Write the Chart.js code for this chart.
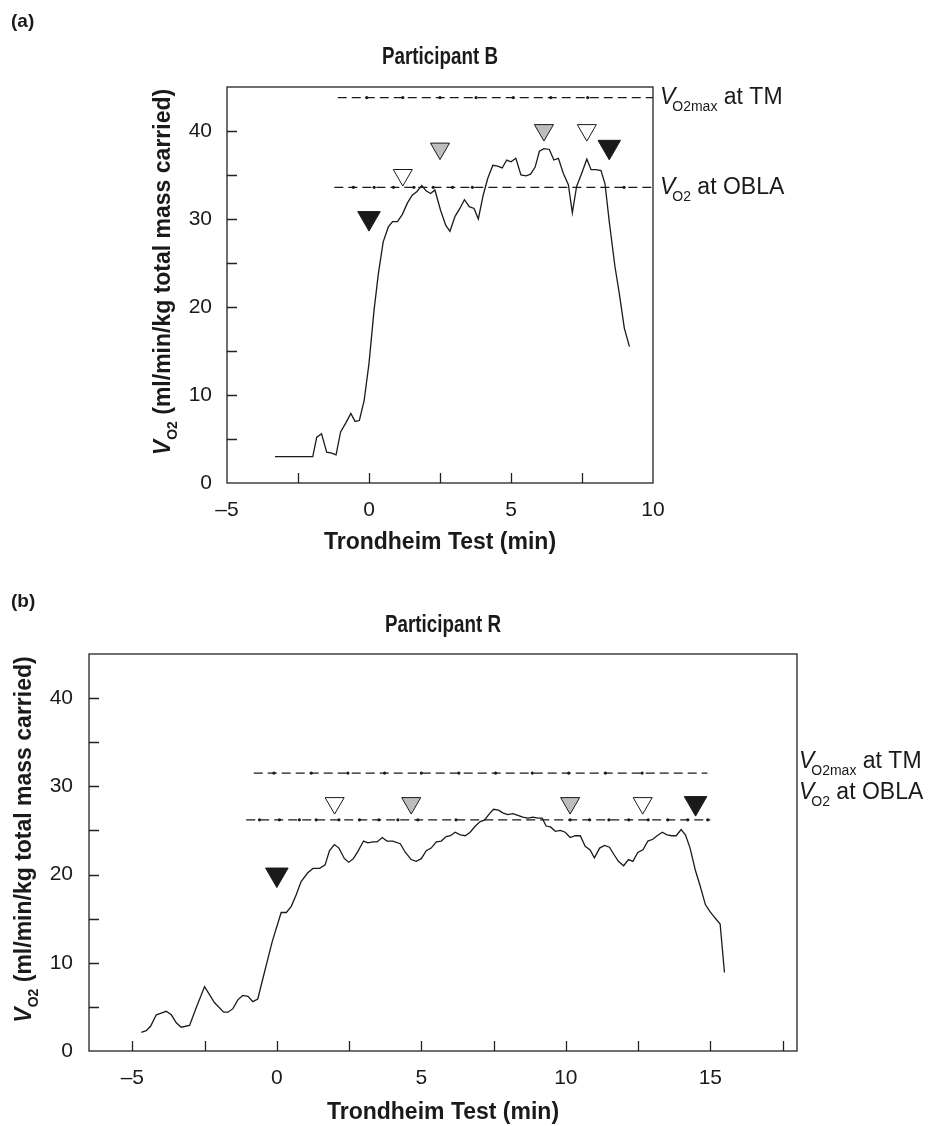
<!DOCTYPE html>
<html>
<head>
<meta charset="utf-8">
<script src="https://cdn.jsdelivr.net/npm/chart.js@4"></script>
<style>
  body { margin: 0; background: #fff; width: 940px; height: 1126px; overflow: hidden; position: relative; }
  .panel { position: absolute; left: 0; width: 940px; }
  #wrapA { top: 0; height: 560px; }
  #wrapB { top: 560px; height: 566px; }
</style>
</head>
<body>
<div class="panel" id="wrapA"><canvas id="chartA"></canvas></div>
<div class="panel" id="wrapB"><canvas id="chartB"></canvas></div>
<script>
// Participant B (panel a)
const aTime = [-3.31, -1.98, -1.84, -1.67, -1.49, -1.31, -1.16, -1.0, -0.82, -0.64,
  -0.49, -0.34, -0.17, 0, 0.18, 0.33, 0.5, 0.68, 0.83, 1.0,
  1.17, 1.35, 1.52, 1.68, 1.86, 2.01, 2.17, 2.32, 2.52, 2.7,
  2.85, 3.03, 3.2, 3.36, 3.53, 3.7, 3.85, 4.02, 4.18, 4.36,
  4.53, 4.69, 4.85, 5.0, 5.17, 5.35, 5.53, 5.69, 5.85, 6.0,
  6.16, 6.35, 6.51, 6.67, 6.84, 7.02, 7.16, 7.31, 7.49, 7.67,
  7.82, 7.99, 8.17, 8.31, 8.46, 8.66, 8.81, 8.99, 9.17];
const aVo2 = [3.0, 3.0, 5.2, 5.6, 3.5, 3.4, 3.2, 5.8, 6.8, 7.9,
  7.0, 7.1, 9.4, 13.6, 19.7, 23.8, 27.4, 29.1, 29.7, 29.7,
  30.5, 31.8, 32.7, 33.1, 33.8, 33.2, 32.9, 33.3, 31.0, 29.3,
  28.6, 30.3, 31.2, 32.2, 31.4, 31.2, 30.0, 32.7, 34.6, 36.1,
  36.0, 35.8, 36.7, 36.5, 36.9, 35.0, 34.9, 35.1, 35.9, 37.7,
  38.0, 37.9, 36.7, 36.9, 35.2, 33.9, 30.7, 33.7, 35.2, 36.8,
  35.6, 35.6, 35.5, 34.0, 29.7, 24.6, 21.6, 17.6, 15.5];
const aVo2max = 43.8;
const aObla = 33.6;
const aMaxSpan = [-1.1, 10];
const aOblaSpan = [-1.22, 10];
const aMaxDots = [-0.08, 1.19, 2.5, 3.77, 5.08, 6.4, 7.7];
const aOblaDots = [-0.55, 0.18, 0.86, 1.58, 2.26, 2.94, 3.64, 8.98];
const aBlackX = [0, 8.46], aBlackY = [30.1, 38.2];
const aGreyX = [2.5, 6.16], aGreyY = [38.0, 40.1];
const aWhiteX = [1.19, 7.67], aWhiteY = [35.0, 40.1];
const aXTicks = [-5, -2.5, 0, 2.5, 5, 7.5, 10];

// Participant R (panel b)
const bTime = [-4.69, -4.52, -4.37, -4.17, -4.0, -3.83, -3.65, -3.48, -3.31, -3.02,
  -2.79, -2.5, -2.16, -1.84, -1.69, -1.52, -1.35, -1.18, -1.0, -0.83,
  -0.66, -0.43, -0.16, 0.15, 0.33, 0.5, 0.67, 0.84, 1.07, 1.25,
  1.48, 1.67, 1.82, 1.99, 2.15, 2.34, 2.49, 2.65, 2.8, 3.0,
  3.15, 3.32, 3.47, 3.65, 3.81, 4.01, 4.27, 4.45, 4.65, 4.82,
  5.0, 5.17, 5.34, 5.52, 5.69, 5.86, 6.01, 6.17, 6.35, 6.52,
  6.69, 6.87, 7.04, 7.19, 7.36, 7.5, 7.67, 7.82, 7.99, 8.17,
  8.34, 8.51, 8.69, 8.86, 9.03, 9.18, 9.32, 9.47, 9.64, 9.81,
  9.98, 10.15, 10.33, 10.5, 10.67, 10.84, 10.99, 11.17, 11.34, 11.51,
  11.66, 11.82, 12.0, 12.17, 12.32, 12.49, 12.67, 12.84, 13.01, 13.16,
  13.34, 13.5, 13.67, 13.82, 13.99, 14.14, 14.3, 14.49, 14.65, 14.83,
  14.99, 15.16, 15.34, 15.49];
const bVo2 = [2.1, 2.3, 2.8, 4.1, 4.3, 4.5, 4.1, 3.2, 2.7, 2.9,
  4.9, 7.3, 5.5, 4.4, 4.4, 4.8, 5.8, 6.3, 6.2, 5.6,
  5.9, 8.9, 12.4, 15.7, 15.7, 16.4, 17.7, 19.2, 20.2, 20.7,
  20.7, 21.1, 22.7, 23.4, 23.0, 21.8, 21.4, 21.8, 22.6, 23.8,
  23.6, 23.7, 23.7, 24.2, 23.8, 23.8, 23.5, 22.5, 21.7, 21.5,
  21.8, 22.7, 23.0, 23.7, 23.8, 24.3, 24.4, 24.8, 24.5, 24.4,
  24.8, 25.5, 26.0, 26.2, 26.9, 27.4, 27.3, 27.0, 26.8, 26.9,
  26.7, 26.5, 26.4, 26.5, 26.4, 26.4, 25.5, 25.4, 24.9, 25.0,
  24.8, 24.2, 24.4, 24.4, 23.2, 22.8, 21.9, 23.0, 23.3, 23.1,
  22.3, 21.5, 21.0, 21.7, 21.5, 22.5, 22.8, 23.8, 24.0, 24.4,
  24.8, 24.5, 24.4, 24.4, 25.1, 24.5, 23.0, 20.4, 18.7, 16.6,
  15.8, 15.1, 14.4, 8.9];
const bVo2max = 31.5;
const bObla = 26.2;
const bMaxSpan = [-0.8, 14.9];
const bOblaSpan = [-1.06, 15.0];
const bMaxDots = [-0.1, 1.19, 2.46, 3.73, 5.0, 6.3, 7.57, 8.84, 10.1, 11.37, 12.64];
const bOblaDots = [-0.6, 0.09, 0.78, 1.36, 2.15, 2.86, 3.53, 4.19, 4.88, 6.2,
  10.15, 10.82, 11.49, 12.18, 12.85, 13.53, 14.22, 14.91];
const bBlackX = [0, 14.49], bBlackY = [20.0, 28.1];
const bGreyX = [4.65, 10.15], bGreyY = [28.1, 28.1];
const bWhiteX = [2.0, 12.66], bWhiteY = [28.1, 28.1];
const bXTicks = [-5, -2.5, 0, 2.5, 5, 7.5, 10, 12.5, 15, 17.5];

const yTicks = [0, 5, 10, 15, 20, 25, 30, 35, 40, 45];

const FONT = '"Liberation Sans", Arial, Helvetica, sans-serif';
const NARROW = '"Liberation Sans Narrow", "Arial Narrow", ' + FONT;
const INK = '#1a1a1a';

const toPoints = (xs, ys) => xs.map((x, i) => ({ x: x, y: ys[i] }));

// dashed reference line with small dots along it
const refLine = (span, level, dots) => {
  const data = [{ x: span[0], y: level }]
    .concat(dots.map((d) => ({ x: d, y: level })))
    .concat([{ x: span[1], y: level }]);
  return {
    type: 'line',
    data: data,
    borderColor: INK,
    borderWidth: 1.2,
    borderDash: [9, 5],
    pointRadius: data.map((p, i) => (i === 0 || i === data.length - 1 ? 0 : 1.6)),
    pointBackgroundColor: INK,
    pointBorderWidth: 0,
    showLine: true,
  };
};

const marks = (xs, ys, fill, r) => ({
  type: 'scatter',
  data: toPoints(xs, ys),
  pointStyle: 'triangle',
  rotation: 180,
  pointRadius: r,
  backgroundColor: fill,
  borderColor: INK,
  borderWidth: 1,
});

// frame and inward tick marks
const frameTicks = {
  id: 'frameTicks',
  afterDatasetsDraw(chart) {
    const { ctx, chartArea, scales } = chart;
    const { left, right, top, bottom } = chartArea;
    const x = scales.x, y = scales.y;
    ctx.save();
    ctx.strokeStyle = '#222';
    ctx.lineWidth = 1.3;
    ctx.beginPath();
    x.ticks.forEach((t) => {
      if (t.value <= x.min || t.value >= x.max) return;
      const px = Math.round(x.getPixelForValue(t.value)) + 0.5;
      ctx.moveTo(px, bottom);
      ctx.lineTo(px, bottom - 10);
    });
    y.ticks.forEach((t) => {
      if (t.value <= y.min || t.value >= y.max) return;
      const py = Math.round(y.getPixelForValue(t.value)) + 0.5;
      ctx.moveTo(left, py);
      ctx.lineTo(left + 10, py);
    });
    ctx.stroke();
    ctx.strokeRect(left, top, right - left, bottom - top);
    ctx.restore();
  },
};

// V with a subscript, then the rest of the label
const drawV = (ctx, x, base, sub, rest, size, subSize, weight, tuck) => {
  ctx.font = weight + ' italic ' + size + 'px ' + FONT;
  ctx.fillText('V', x, base);
  let cx = x + ctx.measureText('V').width * tuck;
  ctx.font = weight + ' ' + subSize + 'px ' + FONT;
  ctx.fillText(sub, cx, base + 7);
  cx += ctx.measureText(sub).width;
  ctx.font = weight + ' ' + size + 'px ' + FONT;
  ctx.fillText(rest, cx, base);
  return cx + ctx.measureText(rest).width - x;
};

const decor = {
  id: 'decor',
  afterDraw(chart, args, o) {
    const ctx = chart.ctx;
    const area = chart.chartArea;
    ctx.save();
    ctx.fillStyle = INK;
    ctx.textAlign = 'left';
    ctx.textBaseline = 'alphabetic';

    ctx.font = 'bold 19px ' + FONT;
    ctx.fillText(o.panel, 11, o.panelY);

    ctx.font = 'bold 24px ' + NARROW;
    const tw = ctx.measureText(o.title).width;
    const sx = Math.min(1, o.titleWidth / tw);
    ctx.save();
    ctx.translate((area.left + area.right) / 2, o.titleY);
    ctx.scale(sx, 1);
    ctx.textAlign = 'center';
    ctx.fillText(o.title, 0, 0);
    ctx.restore();

    // y axis title, rotated
    ctx.save();
    ctx.translate(o.yTitleX, (area.top + area.bottom) / 2 - 13);
    ctx.rotate(-Math.PI / 2);
    const off = document.createElement('canvas').getContext('2d');
    const total = drawV(off, 0, 0, 'O2', ' (ml/min/kg total mass carried)', 23, 14, 'bold', 1);
    drawV(ctx, -total / 2, 8, 'O2', ' (ml/min/kg total mass carried)', 23, 14, 'bold', 1);
    ctx.restore();

    // reference line labels
    o.refLabels.forEach((l) => {
      drawV(ctx, o.refX, l.base, l.sub, l.rest, 23, 14, 'normal', 0.8);
    });
    ctx.restore();
  },
};

const tickFont = { family: FONT, size: 21 };
const tickLabel = (v) => (v % 5 === 0 ? (v < 0 ? '\u2013' + (-v) : String(v)) : '');

const makeChart = (id, cfg) => {
  new Chart(document.getElementById(id), {
    data: {
      datasets: [
        marks(cfg.blackX, cfg.blackY, INK, 13),
        marks(cfg.greyX, cfg.greyY, '#bdbdbd', 11),
        marks(cfg.whiteX, cfg.whiteY, '#ffffff', 11),
        {
          type: 'line',
          data: toPoints(cfg.time, cfg.vo2),
          borderColor: INK,
          borderWidth: 1.3,
          pointRadius: 0,
          tension: 0,
        },
        refLine(cfg.maxSpan, cfg.vo2max, cfg.maxDots),
        refLine(cfg.oblaSpan, cfg.obla, cfg.oblaDots),
      ],
    },
    options: {
      responsive: true,
      maintainAspectRatio: false,
      animation: false,
      events: [],
      layout: { padding: cfg.padding },
      plugins: {
        legend: { display: false },
        tooltip: { enabled: false },
        decor: cfg.decor,
      },
      scales: {
        x: {
          type: 'linear',
          min: cfg.xMin,
          max: cfg.xMax,
          grid: { display: false, drawTicks: false },
          border: { display: false },
          afterBuildTicks: (s) => { s.ticks = cfg.xTicks.map((v) => ({ value: v })); },
          ticks: {
            autoSkip: false,
            maxRotation: 0,
            padding: 15,
            color: INK,
            font: tickFont,
            callback: tickLabel,
          },
          title: {
            display: true,
            text: 'Trondheim Test (min)',
            color: INK,
            font: { family: FONT, size: 23, weight: 'bold' },
            padding: { top: 0, bottom: cfg.xTitlePad },
          },
          afterFit: (s) => { s.height = cfg.xHeight; },
        },
        y: {
          type: 'linear',
          min: 0,
          max: 45,
          grid: { display: false, drawTicks: false },
          border: { display: false },
          afterBuildTicks: (s) => { s.ticks = yTicks.map((v) => ({ value: v })); },
          ticks: {
            padding: cfg.yPad,
            color: INK,
            font: tickFont,
            callback: (v) => (v % 10 === 0 ? String(v) : ''),
          },
          afterFit: (s) => { s.width = cfg.yWidth; },
        },
      },
    },
    plugins: [frameTicks, decor],
  });
};

makeChart('chartA', {
  time: aTime, vo2: aVo2,
  vo2max: aVo2max, obla: aObla,
  maxSpan: aMaxSpan, oblaSpan: aOblaSpan,
  maxDots: aMaxDots, oblaDots: aOblaDots,
  blackX: aBlackX, blackY: aBlackY,
  greyX: aGreyX, greyY: aGreyY,
  whiteX: aWhiteX, whiteY: aWhiteY,
  xMin: -5, xMax: 10, xTicks: aXTicks,
  padding: { left: 0, right: 287, top: 87, bottom: 0 },
  yWidth: 227, yPad: 15,
  xHeight: 77, xTitlePad: 4,
  decor: {
    panel: '(a)', panelY: 27,
    title: 'Participant B', titleY: 64, titleWidth: 116,
    yTitleX: 162,
    refX: 660,
    refLabels: [
      { sub: 'O2max', rest: ' at TM', base: 104 },
      { sub: 'O2', rest: ' at OBLA', base: 194 },
    ],
  },
});

makeChart('chartB', {
  time: bTime, vo2: bVo2,
  vo2max: bVo2max, obla: bObla,
  maxSpan: bMaxSpan, oblaSpan: bOblaSpan,
  maxDots: bMaxDots, oblaDots: bOblaDots,
  blackX: bBlackX, blackY: bBlackY,
  greyX: bGreyX, greyY: bGreyY,
  whiteX: bWhiteX, whiteY: bWhiteY,
  xMin: -6.5, xMax: 18, xTicks: bXTicks,
  padding: { left: 0, right: 143, top: 94, bottom: 0 },
  yWidth: 89, yPad: 16,
  xHeight: 75, xTitlePad: 0,
  decor: {
    panel: '(b)', panelY: 47,
    title: 'Participant R', titleY: 72, titleWidth: 116,
    yTitleX: 23,
    refX: 799,
    refLabels: [
      { sub: 'O2max', rest: ' at TM', base: 208 },
      { sub: 'O2', rest: ' at OBLA', base: 239 },
    ],
  },
});
</script>
</body>
</html>
